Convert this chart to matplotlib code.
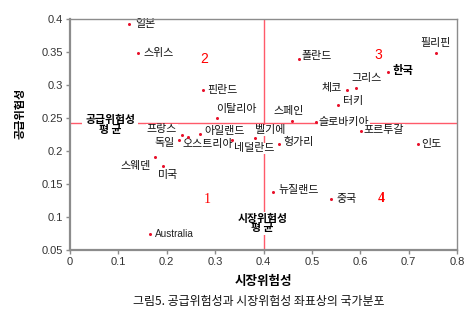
import matplotlib
matplotlib.use("Agg")
import matplotlib.pyplot as plt

plt.rcParams['font.family'] = ['Noto Sans CJK KR', 'DejaVu Sans']

# 국가별 시장위험성(x), 공급위험성(y)
countries = ["일본", "스위스", "핀란드", "이탈리아", "프랑스", "오스트리아", "독일",
             "아일랜드", "네덜란드", "벨기에", "스페인", "슬로바키아", "헝가리",
             "스웨덴", "미국", "Australia", "뉴질랜드", "중국", "인도", "포르투갈",
             "터키", "체코", "그리스", "한국", "폴란드", "필리핀"]
market_risk = [0.122, 0.141, 0.274, 0.304, 0.232, 0.243, 0.225,
               0.269, 0.334, 0.382, 0.458, 0.508, 0.432,
               0.176, 0.192, 0.165, 0.420, 0.539, 0.720, 0.601,
               0.554, 0.572, 0.592, 0.657, 0.473, 0.757]
supply_risk = [0.392, 0.348, 0.292, 0.250, 0.224, 0.221, 0.216,
               0.226, 0.216, 0.219, 0.245, 0.244, 0.211,
               0.191, 0.178, 0.074, 0.138, 0.127, 0.210, 0.231,
               0.269, 0.292, 0.295, 0.319, 0.340, 0.348]
market_mean = 0.4
supply_mean = 0.243

x_ticks = [0, 0.1, 0.2, 0.3, 0.4, 0.5, 0.6, 0.7, 0.8]
y_ticks = [0.05, 0.1, 0.15, 0.2, 0.25, 0.3, 0.35, 0.4]

# 라벨 위치 (점 기준 픽셀 오프셋, 정렬)
label_pos = {
    "일본": (6, 0, "left"), "스위스": (5, 0, "left"), "핀란드": (5, 0, "left"),
    "이탈리아": (-1, 9, "left"), "프랑스": (-5, 6, "right"),
    "오스트리아": (-5, -7, "left"), "독일": (-4, -3, "right"),
    "아일랜드": (4, 3, "left"), "네덜란드": (2, -8, "left"),
    "벨기에": (0, 8, "left"), "스페인": (-18, 10, "left"),
    "슬로바키아": (3, 0, "left"), "헝가리": (5, 2, "left"),
    "스웨덴": (-4, -9, "right"), "미국": (-5, -9, "left"),
    "Australia": (5, 0, "left"), "뉴질랜드": (5, 2, "left"),
    "중국": (6, 0, "left"), "인도": (3, 0, "left"), "포르투갈": (3, 1, "left"),
    "터키": (5, 4, "left"), "체코": (-5, 2, "right"), "그리스": (-5, 10, "left"),
    "한국": (5, 2, "left"), "폴란드": (3, 3, "left"), "필리핀": (-1, 10, "center"),
}

fig = plt.figure(figsize=(4.77, 3.22), dpi=100)
ax = fig.add_axes([70 / 477, 72 / 322, 387 / 477, 231 / 322])

grey = "#8c8c8c"
line_red = "#ff5a6a"

ax.axhline(supply_mean, color=line_red, lw=1, zorder=1)
ax.axvline(market_mean, color=line_red, lw=1, zorder=1)
ax.plot(market_risk, supply_risk, "o", color="#e8102a", ms=2.2, mec="none", zorder=3)

for name, xv, yv in zip(countries, market_risk, supply_risk):
    dx, dy, ha = label_pos[name]
    kw = dict(fontsize=7.9, color="#111111")
    if name == "Australia":
        kw = dict(fontsize=7.2, color="#222222", family="Liberation Sans")
    if name == "한국":
        kw = dict(fontsize=8.2, color="#000000", fontweight="bold")
    ax.annotate(name, (xv, yv), xytext=(dx, dy), textcoords="offset pixels",
                ha=ha, va="center", zorder=2,
                bbox=dict(boxstyle="square,pad=0.05", fc="white", ec="none"), **kw)

# 사분면 번호
ax.text(0.277, 0.339, "2", color="red", fontsize=10, family="Liberation Sans",
        ha="center", va="center")
ax.text(0.638, 0.345, "3", color="red", fontsize=10, family="Liberation Sans",
        ha="center", va="center")
ax.text(0.283, 0.127, "1", color="red", fontsize=10, family="Liberation Serif",
        ha="center", va="center")
ax.text(0.644, 0.128, "4", color="red", fontsize=10, family="Liberation Serif",
        fontweight="bold", ha="center", va="center")

# 평균선 라벨
ax.text(0.083, supply_mean - 0.0035, "공급위험성\n평 균", fontsize=7.8, fontweight="bold",
        ha="center", va="center", linespacing=0.9, zorder=2,
        bbox=dict(boxstyle="square,pad=0.3", fc="white", ec="none"))
ax.text(market_mean - 0.002, 0.09, "시장위험성\n평 균", fontsize=7.8, fontweight="bold",
        ha="center", va="center", linespacing=0.9, zorder=2,
        bbox=dict(boxstyle="square,pad=0.2", fc="white", ec="none"))

ax.set_xlim(0, 0.8)
ax.set_ylim(0.05, 0.4)
ax.set_xticks(x_ticks)
ax.set_yticks(y_ticks)
ax.set_xticklabels([f"{t:g}" for t in x_ticks], family="Liberation Sans", fontsize=8, color="#333333")
ax.set_yticklabels([f"{t:g}" for t in y_ticks], family="Liberation Sans", fontsize=8, color="#333333")
ax.tick_params(direction="out", length=3, width=1, color=grey, pad=2)

for side in ["left", "bottom"]:
    ax.spines[side].set_color(grey)
    ax.spines[side].set_linewidth(1.6)
for side in ["top", "right"]:
    ax.spines[side].set_color(grey)
    ax.spines[side].set_linewidth(1)

fig.text(263 / 477, 1 - 281 / 322, "시장위험성", fontsize=9, fontweight="bold",
         ha="center", va="center")
fig.text(20 / 477, 1 - 113 / 322, "공급위험성", fontsize=8, fontweight="bold",
         ha="center", va="center", rotation=90)
fig.text(259 / 477, 1 - 302 / 322, "그림5. 공급위험성과 시장위험성 좌표상의 국가분포",
         fontsize=8.6, ha="center", va="center", color="#111111")

fig.savefig("out.png", dpi=100)
